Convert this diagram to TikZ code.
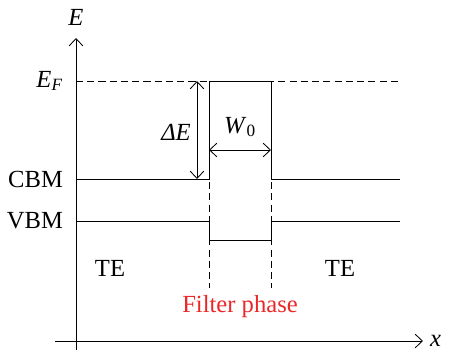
\documentclass[tikz,border=0pt]{standalone}
\usepackage{fontspec}
\setmainfont{Liberation Serif}
\usepackage{tikz}
\usetikzlibrary{arrows.meta,positioning}
\definecolor{filterred}{RGB}{235,40,40}

\begin{document}
\begin{tikzpicture}[line width=0.6pt, every node/.style={font=\fontsize{17.5}{21}\selectfont},
    barb/.style={-{Straight Barb[length=1.8mm,width=3.4mm]}},
    dbarb/.style={{Straight Barb[length=1.8mm,width=3.4mm]}-{Straight Barb[length=1.8mm,width=3.4mm]}},
    dashline/.style={dash pattern=on 5pt off 3pt}]
  \useasboundingbox (-1.9,-0.425) rectangle (9.4,8.525);
  % axes
  \coordinate (ybot) at (0,-0.225);
  \coordinate (ytop) at (0,7.575);
  \coordinate (xleft) at (-0.525,0);
  \coordinate (xright) at (8.675,0);
  \draw[barb] (ybot) -- (ytop);
  \draw[barb] (xleft) -- (xright);
  \node (elabel) at (0,8.1) {\textit{E}};
  \node[right=0.05 of xright] (xlabel) {\textit{x}};
  % levels
  \coordinate (ef0) at (0,6.5);     \coordinate (ef1) at (8.1,6.5);
  \coordinate (cb0) at (0,4.05);    \coordinate (cb1) at (3.325,4.05);
  \coordinate (cb2) at (4.875,4.05);\coordinate (cb3) at (8.1,4.05);
  \coordinate (vb0) at (0,3.0);     \coordinate (vb1) at (3.325,3.0);
  \coordinate (vb2) at (4.875,3.0); \coordinate (vb3) at (8.1,3.0);
  \coordinate (ft0) at (3.325,6.5); \coordinate (ft1) at (4.875,6.5);
  \coordinate (fb0) at (3.325,2.525); \coordinate (fb1) at (4.875,2.525);
  \coordinate (fd0) at (3.325,1.325); \coordinate (fd1) at (4.875,1.325);
  \draw[dashline] (ef0) -- (ef1);
  \draw (cb0) -- (cb1) -- (ft0) -- (ft1) -- (cb2) -- (cb3);
  \draw (vb0) -- (vb1) -- (fb0) -- (fb1) -- (vb2) -- (vb3);
  \draw[dashline] (ft0) -- (fd0);
  \draw[dashline] (ft1) -- (fd1);
  % arrows
  \coordinate (de0) at (3.025,6.5);  \coordinate (de1) at (3.025,4.05);
  \coordinate (w0) at (3.325,4.775); \coordinate (w1) at (4.875,4.775);
  \draw[dbarb] (de0) -- (de1);
  \draw[dbarb] (w0) -- (w1);
  \node (dlabel) at (2.5,5.225) {\textit{ΔE}};
  \node (wlabel) at (4.1,5.35) {\textit{W}\textsubscript{0}};
  % labels
  \node[left=0.2 of ef0] (eflabel) {\textit{E}\textsubscript{\textit{F}}};
  \node[left=0.2 of cb0] (cblabel) {CBM};
  \node[left=0.2 of vb0] (vblabel) {VBM};
  \node (te0) at (0.85,1.825) {TE};
  \node (te1) at (6.6,1.825) {TE};
  \node[text=filterred] (filter) at (4.1,0.85) {Filter phase};
\end{tikzpicture}
\end{document}
